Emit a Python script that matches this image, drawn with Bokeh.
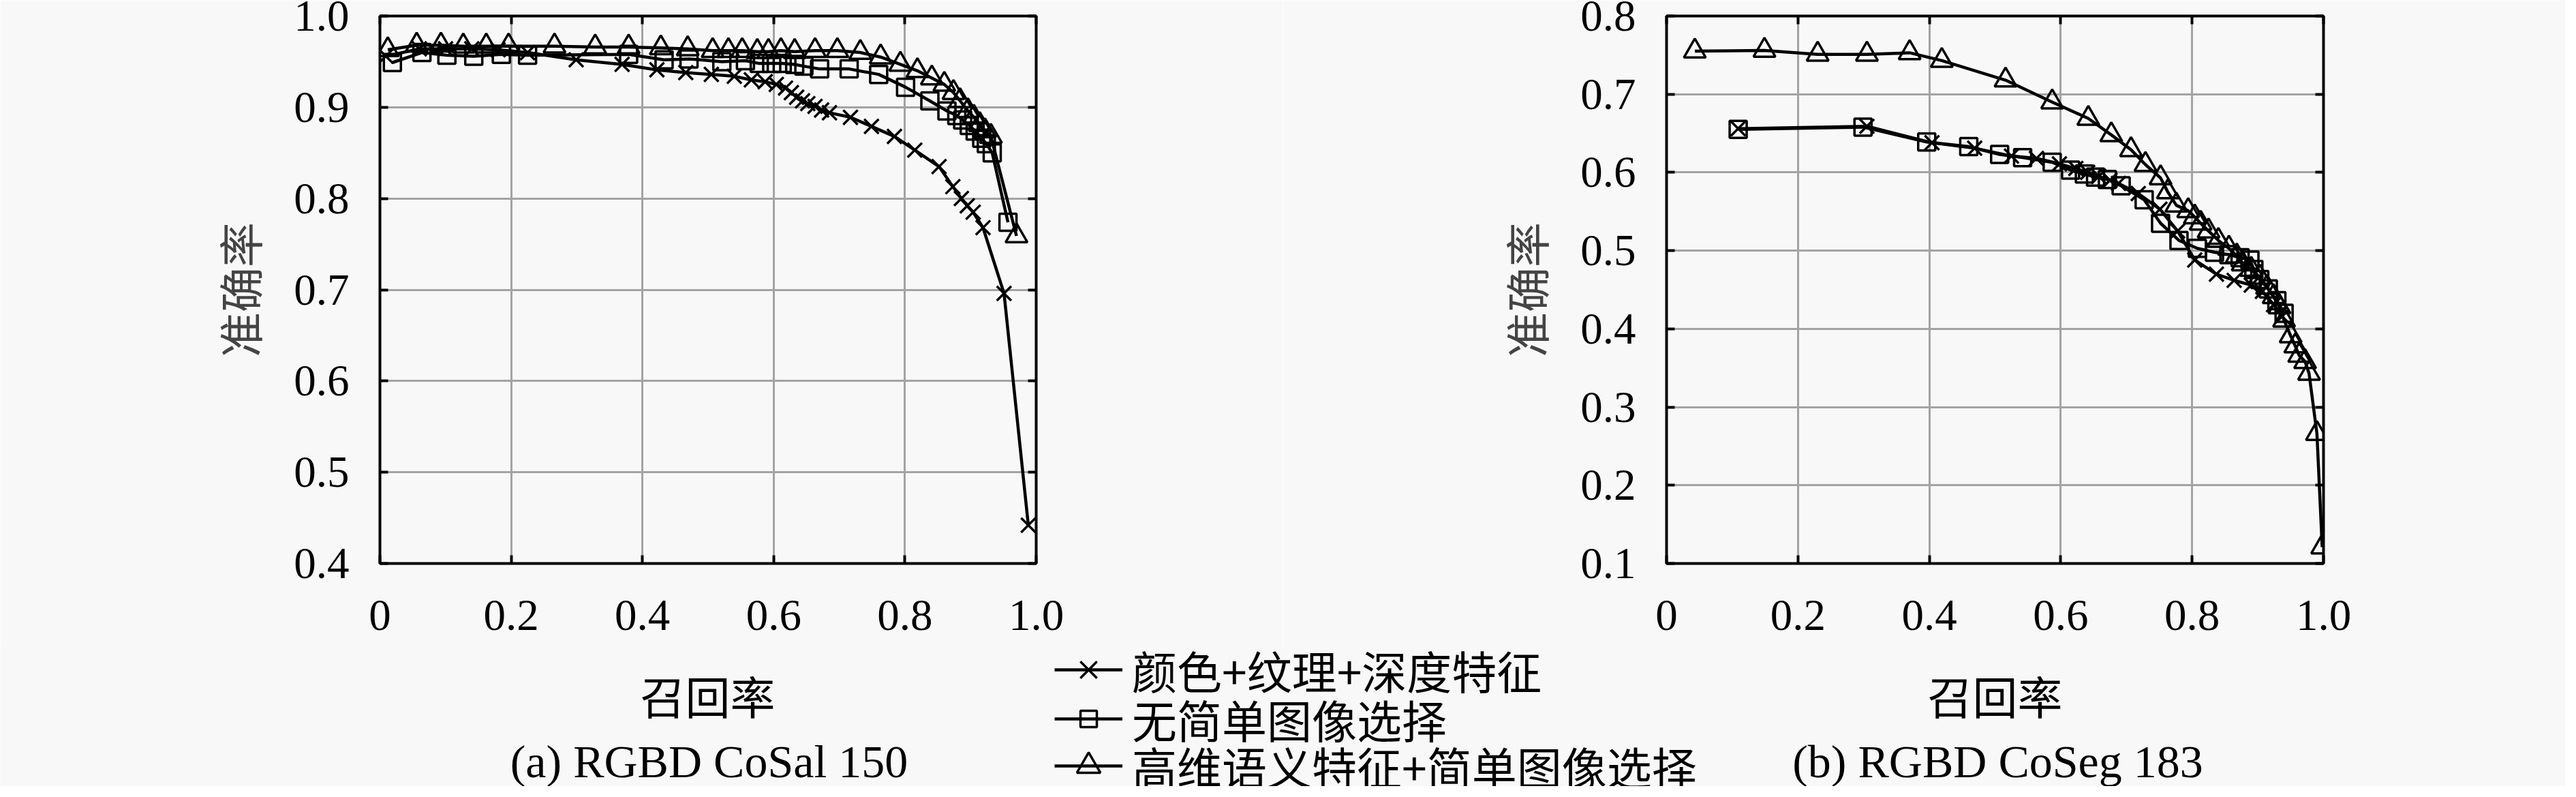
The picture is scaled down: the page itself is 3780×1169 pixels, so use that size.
from bokeh.plotting import figure
from bokeh.models import Range1d, FixedTicker, LinearAxis, Legend, LegendItem, Label, CustomJSTickFormatter
from bokeh.layouts import column, row
from bokeh.embed import file_html
from bokeh.resources import INLINE

# ---------------- data ----------------
x_ticks = [0, 0.2, 0.4, 0.6, 0.8, 1.0]
x_tick_labels = ["0", "0.2", "0.4", "0.6", "0.8", "1.0"]
a_y_ticks = [0.4, 0.5, 0.6, 0.7, 0.8, 0.9, 1.0]
a_y_tick_labels = ["0.4", "0.5", "0.6", "0.7", "0.8", "0.9", "1.0"]
b_y_ticks = [0.1, 0.2, 0.3, 0.4, 0.5, 0.6, 0.7, 0.8]
b_y_tick_labels = ["0.1", "0.2", "0.3", "0.4", "0.5", "0.6", "0.7", "0.8"]

series_names = ["颜色+纹理+深度特征", "无简单图像选择", "高维语义特征+简单图像选择"]
y_label = "准确率"
x_label = "召回率"
captions = ["(a) RGBD CoSal 150", "(b) RGBD CoSeg 183"]

# (a) RGBD CoSal 150
a_feat_recall = [0.009, 0.06, 0.10, 0.14, 0.18, 0.225, 0.299, 0.369, 0.422, 0.466, 0.505, 0.540,
                 0.566, 0.587, 0.604, 0.618, 0.627, 0.635, 0.644, 0.652, 0.663, 0.673, 0.685, 0.717,
                 0.749, 0.784, 0.815, 0.852, 0.873, 0.886, 0.895, 0.904, 0.919, 0.951, 0.988]
a_feat_prec = [0.956, 0.964, 0.964, 0.964, 0.963, 0.960, 0.952, 0.947, 0.941, 0.938, 0.936, 0.934,
               0.930, 0.928, 0.925, 0.921, 0.916, 0.911, 0.907, 0.904, 0.901, 0.897, 0.894, 0.889,
               0.879, 0.868, 0.853, 0.835, 0.813, 0.800, 0.792, 0.785, 0.768, 0.696, 0.442]
a_nosel_recall = [0.019, 0.064, 0.102, 0.143, 0.185, 0.225, 0.379, 0.433, 0.471, 0.521, 0.557, 0.578,
                  0.597, 0.613, 0.632, 0.646, 0.670, 0.715, 0.760, 0.801, 0.838, 0.864, 0.879, 0.888,
                  0.898, 0.907, 0.917, 0.924, 0.933, 0.957]
a_nosel_prec = [0.949, 0.960, 0.957, 0.956, 0.958, 0.957, 0.958, 0.952, 0.953, 0.950, 0.951, 0.948,
                0.948, 0.948, 0.947, 0.945, 0.942, 0.942, 0.936, 0.922, 0.907, 0.896, 0.891, 0.886,
                0.880, 0.874, 0.866, 0.860, 0.850, 0.774]
a_full_recall = [0.012, 0.056, 0.093, 0.127, 0.162, 0.196, 0.266, 0.328, 0.379, 0.428, 0.469, 0.507,
                 0.531, 0.552, 0.575, 0.592, 0.611, 0.632, 0.663, 0.697, 0.732, 0.763, 0.793, 0.819,
                 0.841, 0.860, 0.874, 0.884, 0.896, 0.905, 0.914, 0.922, 0.931, 0.970]
a_full_prec = [0.963, 0.968, 0.968, 0.967, 0.967, 0.967, 0.967, 0.966, 0.966, 0.965, 0.964, 0.962,
               0.962, 0.962, 0.961, 0.961, 0.962, 0.961, 0.962, 0.962, 0.960, 0.955, 0.947, 0.940,
               0.932, 0.925, 0.916, 0.907, 0.896, 0.889, 0.881, 0.874, 0.868, 0.759]

# (b) RGBD CoSeg 183
b_feat_recall = [0.109, 0.305, 0.404, 0.469, 0.525, 0.563, 0.598, 0.623, 0.641, 0.658, 0.675, 0.688,
                 0.718, 0.751, 0.778, 0.804, 0.837, 0.864, 0.890, 0.907, 0.924, 0.937]
b_feat_prec = [0.656, 0.659, 0.638, 0.631, 0.621, 0.618, 0.611, 0.605, 0.600, 0.595, 0.590, 0.586,
               0.573, 0.553, 0.525, 0.488, 0.470, 0.462, 0.456, 0.448, 0.431, 0.416]
b_nosel_recall = [0.109, 0.299, 0.396, 0.460, 0.507, 0.542, 0.587, 0.615, 0.636, 0.653, 0.671, 0.692,
                  0.727, 0.752, 0.780, 0.808, 0.834, 0.856, 0.873, 0.888, 0.894, 0.903, 0.916, 0.929, 0.940]
b_nosel_prec = [0.655, 0.658, 0.639, 0.633, 0.623, 0.619, 0.613, 0.603, 0.598, 0.594, 0.591, 0.583,
                0.565, 0.535, 0.513, 0.503, 0.498, 0.495, 0.491, 0.488, 0.476, 0.463, 0.451, 0.436, 0.420]
b_full_recall = [0.043, 0.149, 0.230, 0.305, 0.370, 0.419, 0.516, 0.587, 0.642, 0.677, 0.707, 0.729,
                 0.752, 0.763, 0.776, 0.794, 0.804, 0.813, 0.825, 0.840, 0.856, 0.868, 0.877, 0.890,
                 0.903, 0.914, 0.924, 0.933, 0.940, 0.950, 0.957, 0.963, 0.972, 0.978, 0.990, 0.998]
b_full_prec = [0.755, 0.756, 0.751, 0.751, 0.753, 0.743, 0.718, 0.690, 0.669, 0.648, 0.629, 0.610,
               0.593, 0.575, 0.558, 0.551, 0.543, 0.535, 0.525, 0.513, 0.503, 0.493, 0.483, 0.476,
               0.466, 0.453, 0.441, 0.428, 0.411, 0.391, 0.378, 0.366, 0.358, 0.343, 0.266, 0.121]

# ---------------- style ----------------
BG = "#f8f8f8"
SERIF = "Liberation Serif"
CJK = "Noto Sans CJK SC"
TICK_FS = "65px"
CJK_FS = "66px"
LINE_W = 4.5
MARK_W = 3.5
MARKERS = [("x", 30), ("square", 25), ("triangle", 32)]
LEGEND_GLYPH_H = [86, 60, 86]


def style_axis(ax, ticks, labels, standoff):
    ax.ticker = FixedTicker(ticks=ticks)
    ax.major_label_overrides = {t: l for t, l in zip(ticks, labels)}
    ax.major_label_text_font = SERIF
    ax.major_label_text_font_size = TICK_FS
    ax.major_label_text_color = "black"
    ax.major_label_standoff = standoff
    ax.major_tick_in = 12
    ax.major_tick_out = 0
    ax.major_tick_line_width = 4
    ax.major_tick_line_color = "black"
    ax.minor_tick_line_color = None
    ax.axis_line_color = None


def mirror_axis(ticks):
    return LinearAxis(ticker=FixedTicker(ticks=ticks),
                      formatter=CustomJSTickFormatter(code="return ''"),
                      major_label_text_font_size="1px", major_label_standoff=0,
                      major_tick_in=12, major_tick_out=0, major_tick_line_width=4,
                      major_tick_line_color="black", minor_tick_line_color=None,
                      axis_line_color=None)


def make_panel(series, y0, y1, y_ticks, y_tick_labels, border_left, border_right):
    p = figure(width=1882, height=947, x_range=Range1d(0, 1), y_range=Range1d(y0, y1),
               output_backend="svg", toolbar_location=None,
               min_border_left=border_left, min_border_right=border_right,
               min_border_top=23, min_border_bottom=121)
    p.background_fill_color = BG
    p.border_fill_color = BG
    p.outline_line_color = "black"
    p.outline_line_width = 4
    style_axis(p.xaxis[0], x_ticks, x_tick_labels, 54)
    style_axis(p.yaxis[0], y_ticks, y_tick_labels, 45)
    p.yaxis[0].axis_label = y_label
    p.yaxis[0].axis_label_text_font = CJK
    p.yaxis[0].axis_label_text_font_size = CJK_FS
    p.yaxis[0].axis_label_text_font_style = "normal"
    p.yaxis[0].axis_label_standoff = 30
    p.add_layout(mirror_axis(y_ticks), "right")
    p.add_layout(mirror_axis(x_ticks), "above")
    p.xgrid.ticker = FixedTicker(ticks=x_ticks)
    p.ygrid.ticker = FixedTicker(ticks=y_ticks)
    p.grid.grid_line_color = "#a3a3a3"
    p.grid.grid_line_width = 3
    for (xs, ys), (mk, sz) in zip(series, MARKERS):
        p.line(xs, ys, line_color="black", line_width=LINE_W, line_join="round")
        p.scatter(xs, ys, marker=mk, size=sz, line_color="black", line_width=MARK_W, fill_color=None)
    return p


series_a = [(a_feat_recall, a_feat_prec), (a_nosel_recall, a_nosel_prec), (a_full_recall, a_full_prec)]
series_b = [(b_feat_recall, b_feat_prec), (b_nosel_recall, b_nosel_prec), (b_full_recall, b_full_prec)]
p1 = make_panel(series_a, 0.4, 1.0, a_y_ticks, a_y_tick_labels, 557, 362)
p2 = make_panel(series_b, 0.1, 0.8, b_y_ticks, b_y_tick_labels, 563, 355)

# bottom strip: axis titles, legend, captions.  Its y range lies above every
# precision value, so the legend's renderers draw nothing inside the strip.
p3 = figure(width=3764, height=206, x_range=Range1d(0, 1), y_range=Range1d(10, 11),
            output_backend="svg", toolbar_location=None, min_border=0,
            x_axis_type=None, y_axis_type=None)
p3.grid.visible = False
p3.outline_line_color = None
p3.background_fill_color = BG
p3.border_fill_color = BG

legend_rows_vy = [123, 51, -18]
for name, (xs, ys), (mk, sz), gh, vy in zip(series_names, series_a, MARKERS, LEGEND_GLYPH_H, legend_rows_vy):
    lr = p3.line(xs, ys, line_color="black", line_width=LINE_W)
    sr = p3.scatter(xs, ys, marker=mk, size=sz, line_color="black", line_width=MARK_W, fill_color=None)
    lg = Legend(items=[LegendItem(label=name, renderers=[lr, sr])], location=(1547, vy),
                orientation="vertical", glyph_width=100, glyph_height=gh, label_standoff=14,
                padding=0, margin=0, border_line_color=None, background_fill_alpha=0,
                label_text_font=CJK, label_text_font_size=CJK_FS, label_text_color="black")
    p3.add_layout(lg)

for cx in (1038, 2927):
    p3.add_layout(Label(x=cx, y=135, x_units="screen", y_units="screen", text=x_label,
                        text_align="center", text_baseline="middle",
                        text_font=CJK, text_font_size=CJK_FS, text_color="black"))
for cx, cap in zip((1040, 2931), captions):
    p3.add_layout(Label(x=cx, y=37, x_units="screen", y_units="screen", text=cap,
                        text_align="center", text_baseline="middle",
                        text_font=SERIF, text_font_size="68px", text_color="black"))

layout = column(row(p1, p2), p3)
open("out.html", "w").write(file_html(layout, INLINE))
